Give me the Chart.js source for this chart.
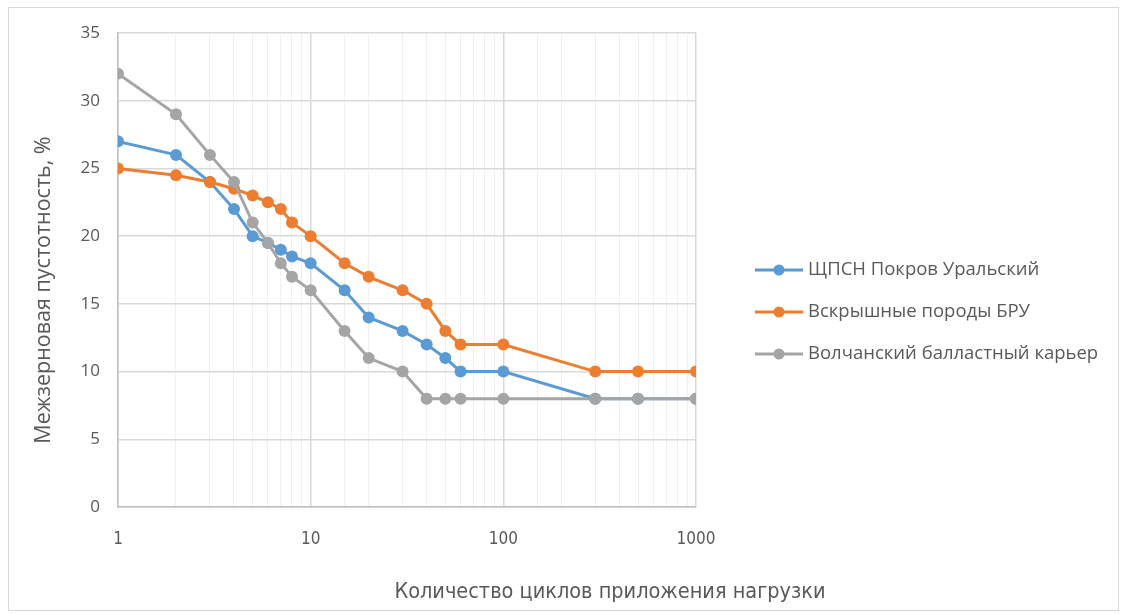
<!DOCTYPE html>
<html>
<head>
<meta charset="utf-8">
<script src="https://cdn.jsdelivr.net/npm/chart.js@4.4.0/dist/chart.umd.min.js"></script>
<style>
  html, body { margin: 0; padding: 0; background: #fff; }
  #wrap { position: relative; width: 1129px; height: 615px; }
  #frame { position: absolute; left: 8px; top: 7px; width: 1111px; height: 604px; border: 1px solid #d9d9d9; box-sizing: border-box; pointer-events: none; }
</style>
</head>
<body>
<div id="wrap">
  <canvas id="myChart" width="1129" height="615"></canvas>
  <div id="frame"></div>
</div>
<script>
// Данные
const cycles = [1, 2, 3, 4, 5, 6, 7, 8, 10, 15, 20, 30, 40, 50, 60, 100, 300, 500, 1000];
const pokrov = [27, 26, 24, 22, 20, 19.5, 19, 18.5, 18, 16, 14, 13, 12, 11, 10, 10, 8, 8, 8];
const vskrysh = [25, 24.5, 24, 23.5, 23, 22.5, 22, 21, 20, 18, 17, 16, 15, 13, 12, 12, 10, 10, 10];
const volchansk = [32, 29, 26, 24, 21, 19.5, 18, 17, 16, 13, 11, 10, 8, 8, 8, 8, 8, 8, 8];
const seriesNames = ["ЩПСН Покров Уральский", "Вскрышные породы БРУ", "Волчанский балластный карьер"];
const seriesColors = ["#5B9BD5", "#ED7D31", "#A5A5A5"];
const yTicks = [0, 5, 10, 15, 20, 25, 30, 35];

const textColor = "#595959";
const baseFont = "'Open Sans', 'Liberation Sans', sans-serif";
const narrowFont = "'Liberation Sans Narrow', 'DejaVu Sans Condensed', 'Liberation Sans', sans-serif";

function toPoints(values) {
  return cycles.map((c, i) => ({ x: c, y: values[i] }));
}

function isDecade(v) {
  const l = Math.log10(v);
  return Math.abs(l - Math.round(l)) < 1e-9;
}

// Подписи осей и легенда рисуются вручную
const extrasPlugin = {
  id: "extras",
  afterDraw(chart) {
    const ctx = chart.ctx;
    ctx.save();
    ctx.fillStyle = textColor;
    ctx.textAlign = "center";
    ctx.textBaseline = "middle";

    // подпись оси X
    ctx.font = "21.5px " + narrowFont;
    ctx.fillText("Количество циклов приложения нагрузки", 610, 592);

    // подпись оси Y
    ctx.save();
    ctx.translate(44, 290);
    ctx.rotate(-Math.PI / 2);
    ctx.font = "21.5px " + baseFont;
    ctx.fillText("Межзерновая пустотность, %", 0, 0);
    ctx.restore();

    // легенда
    const lx = 755, ly = 270, step = 42;
    seriesNames.forEach((name, i) => {
      const y = ly + i * step;
      ctx.strokeStyle = seriesColors[i];
      ctx.lineWidth = 3;
      ctx.beginPath();
      ctx.moveTo(lx, y);
      ctx.lineTo(lx + 48, y);
      ctx.stroke();
      ctx.fillStyle = seriesColors[i];
      ctx.beginPath();
      ctx.arc(lx + 24, y, 5.5, 0, Math.PI * 2);
      ctx.fill();
      ctx.fillStyle = textColor;
      ctx.font = "18.5px " + baseFont;
      ctx.textAlign = "left";
      ctx.fillText(name, lx + 53, y);
    });
    ctx.restore();
  }
};

const datasets = [pokrov, vskrysh, volchansk].map((vals, i) => ({
  label: seriesNames[i],
  data: toPoints(vals),
  borderColor: seriesColors[i],
  backgroundColor: seriesColors[i],
  borderWidth: 3,
  pointRadius: 6,
  pointHoverRadius: 6,
  pointBorderWidth: 0,
  tension: 0,
  order: 3 - i
}));

const ctx = document.getElementById("myChart").getContext("2d");
new Chart(ctx, {
  type: "line",
  data: { datasets: datasets },
  options: {
    responsive: false,
    animation: false,
    events: [],
    layout: { padding: { left: 22, right: 433, top: 33, bottom: 0 } },
    plugins: {
      legend: { display: false },
      tooltip: { enabled: false }
    },
    scales: {
      x: {
        type: "logarithmic",
        min: 1,
        max: 1000,
        grid: {
          drawTicks: false,
          color: c => (c.tick && isDecade(c.tick.value)) ? "#d9d9d9" : "#f0f0f0",
          lineWidth: c => (c.tick && isDecade(c.tick.value)) ? 1.5 : 1
        },
        border: { color: "#bfbfbf", width: 1.5 },
        ticks: {
          autoSkip: false,
          maxRotation: 0,
          padding: 22,
          color: textColor,
          font: { size: 17, family: narrowFont },
          callback: v => isDecade(v) ? String(v) : ""
        },
        afterFit: s => { s.height = 108; }
      },
      y: {
        min: 0,
        max: 35,
        afterBuildTicks: s => { s.ticks = yTicks.map(v => ({ value: v })); },
        grid: { drawTicks: false, color: "#d9d9d9", lineWidth: 1.5 },
        border: { color: "#bfbfbf", width: 1.5 },
        ticks: {
          padding: 18,
          color: textColor,
          font: { size: 17, family: baseFont }
        },
        afterFit: s => { s.width = 96; }
      }
    }
  },
  plugins: [extrasPlugin]
});
</script>
</body>
</html>
